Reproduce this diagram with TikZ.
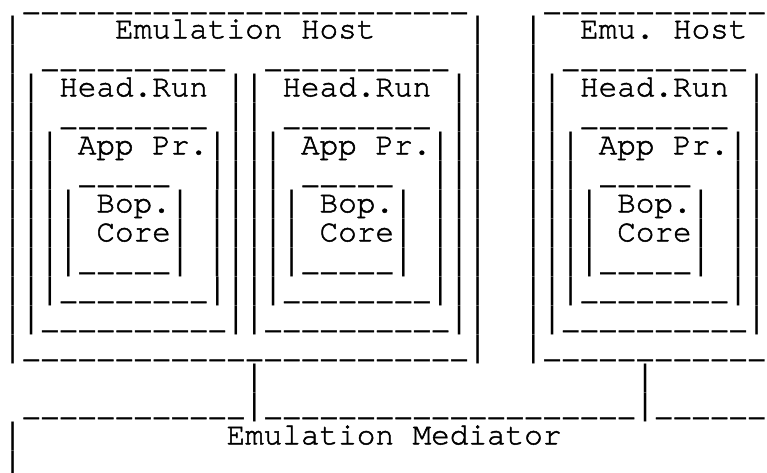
\documentclass[tikz,border=0pt]{standalone}
\usepackage{fontspec}
\usepackage{graphicx}
\newfontfamily\ascfont{texgyrecursor-regular.otf}[WordSpace={1,0,0},FakeBold=1.6]
\newfontfamily\barfont{Liberation Mono}
\newcommand\dd{\makebox[0.6em][c]{\scalebox{0.8}[1]{\_}}}
\newcommand\bb{{\barfont|}}
\newcommand\nU[1]{\ifnum#1>0 \dd\expandafter\nU\expandafter{\number\numexpr#1-1\relax}\fi}
\newcommand\nS[1]{\ifnum#1>0 ~\expandafter\nS\expandafter{\number\numexpr#1-1\relax}\fi}
\newcommand\nB[1]{\ifnum#1>0 \bb\expandafter\nB\expandafter{\number\numexpr#1-1\relax}\fi}
\tikzset{asc/.style={anchor=base west, inner sep=0pt, outer sep=0pt, font=\ascfont\fontsize{31}{29}\selectfont, text=black}}
\begin{document}
\begin{tikzpicture}[x=1pt,y=1pt]
\useasboundingbox (0,0) rectangle (767,-473);
\def\lx{3.4}
\node[asc] (l1)  at (\lx,{-(10.3+29*0)})  {\nS{1}\nU{24}\nS{4}\nU{12}};
\node[asc] (l2)  at (\lx,{-(9.3+29*1)})  {\nB1\nS{5}Emulation~Host\nS{5}\nB1\nS{2}\nB1\nS{2}Emu.~Host};
\node[asc] (l3)  at (\lx,{-(9.3+29*2)})  {\nB1\nS{1}\nU{10}\nS{2}\nU{10}\nS{1}\nB1\nS{2}\nB1\nS{1}\nU{10}};
\node[asc] (l4)  at (\lx,{-(9.3+29*3)})  {\nB2\nS{1}Head.Run\nS{1}\nB2\nS{1}Head.Run\nS{1}\nB2\nS{2}\nB2\nS{1}Head.Run\nS{1}\nB1};
\node[asc] (l5)  at (\lx,{-(9.3+29*4)})  {\nB2\nS{1}\nU{8}\nS{1}\nB2\nS{1}\nU{8}\nS{1}\nB2\nS{2}\nB2\nS{1}\nU{8}\nS{1}\nB1};
\node[asc] (l6)  at (\lx,{-(9.3+29*5)})  {\nB3\nS{1}App~Pr.\nB4\nS{1}App~Pr.\nB3\nS{2}\nB3\nS{1}App~Pr.\nB2};
\node[asc] (l7)  at (\lx,{-(9.3+29*6)})  {\nB3\nS{1}\nU{5}\nS{2}\nB4\nS{1}\nU{5}\nS{2}\nB3\nS{2}\nB3\nS{1}\nU{5}\nS{2}\nB2};
\node[asc] (l8)  at (\lx,{-(9.3+29*7)})  {\nB4\nS{1}Bop.\nB1\nS{1}\nB5\nS{1}Bop.\nB1\nS{1}\nB3\nS{2}\nB4\nS{1}Bop.\nB1\nS{1}\nB2};
\node[asc] (l9)  at (\lx,{-(9.3+29*8)})  {\nB4\nS{1}Core\nB1\nS{1}\nB5\nS{1}Core\nB1\nS{1}\nB3\nS{2}\nB4\nS{1}Core\nB1\nS{1}\nB2};
\node[asc] (l10) at (\lx,{-(9.3+29*9)})  {\nB4\nU{5}\nB1\nS{1}\nB5\nU{5}\nB1\nS{1}\nB3\nS{2}\nB4\nU{5}\nB1\nS{1}\nB2};
\node[asc] (l11) at (\lx,{-(9.3+29*10)}) {\nB3\nU{8}\nB4\nU{8}\nB3\nS{2}\nB3\nU{8}\nB2};
\node[asc] (l12) at (\lx,{-(9.3+29*11)}) {\nB2\nU{10}\nB2\nU{10}\nB2\nS{2}\nB2\nU{10}\nB1};
\node[asc] (l13) at (\lx,{-(9.3+29*12)}) {\nB1\nU{24}\nB1\nS{2}\nB1\nU{12}};
\node[asc] (l14) at (\lx,{-(9.3+29*13)}) {\nS{13}\nB1\nS{20}\nB1};
\node[asc] (l15) at (\lx,{-(9.3+29*14)}) {\nS{1}\nU{12}\nB1\nU{20}\nB1\nU{6}};
\node[asc] (l16) at (\lx,{-(9.3+29*15)}) {\nB1\nS{11}Emulation~Mediator};
\node[asc] (l17) at (\lx,{-(9.3+29*16)}) {\nB1};
\end{tikzpicture}
\end{document}
